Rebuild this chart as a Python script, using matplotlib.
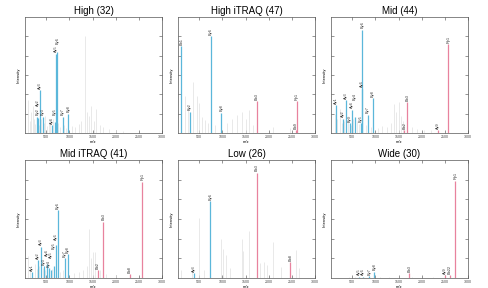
import matplotlib
matplotlib.use("Agg")
import matplotlib.pyplot as plt

plt.rcParams['font.family'] = ['Liberation Sans', 'DejaVu Sans']

titles = ["High (32)", "High iTRAQ (47)", "Mid (44)", "Mid iTRAQ (41)", "Low (26)", "Wide (30)"]
xticks = [500, 1000, 1500, 2000, 2500, 3000]

# ---- High (32)
high_gray_mz = [110, 150, 175, 205, 230, 260, 320, 345, 390, 455, 480, 520, 560, 590, 650, 760, 800, 880, 930,
                1050, 1120, 1200, 1260, 1344, 1380, 1420, 1470, 1530, 1580, 1650, 1720, 1850, 2000, 2150]
high_gray_int = [34, 12, 22, 28, 15, 9, 12, 8, 14, 10, 18, 7, 12, 9, 14, 10, 6, 8, 5,
                 7, 6, 9, 12, 100, 22, 18, 28, 12, 25, 8, 6, 4, 3, 2]
high_blue_mz = [302, 318, 368, 425, 632, 683, 705, 735, 852, 976]
high_blue_int = [17, 16, 44, 17, 8, 11, 82, 84, 17, 20]
high_blue_lab = ["By2", "Ay2", "Ay3", "By3", "Ay4", "By5", "Ay5", "By6", "By7", "By8"]
high_red_mz = []
high_red_int = []
high_red_lab = []

# ---- High iTRAQ (47)
hit_gray_mz = [185, 258, 368, 441, 493, 551, 625, 683, 845, 1100, 1211, 1322, 1432, 1507, 1579, 1650, 2093, 2460]
hit_gray_int = [38, 27, 53, 38, 31, 17, 13, 10, 8, 10, 15, 19, 22, 15, 24, 8, 6, 5]
hit_blue_mz = [115, 295, 749, 978]
hit_blue_int = [90, 22, 100, 21]
hit_blue_lab = ["Bb1", "By2", "By6", "By8"]
hit_red_mz = [1740, 2590, 2603]
hit_red_int = [33, 3, 33]
hit_red_lab = ["Bb3", "Bb9", "Ry1"]

# ---- Mid (44)
mid_gray_mz = [120, 180, 230, 270, 330, 400, 470, 520, 600, 640, 790, 900, 1050, 1150, 1250, 1330, 1400,
               1450, 1500, 1550, 1600, 1800, 1900, 2050, 2200]
mid_gray_int = [20, 14, 25, 10, 12, 18, 8, 15, 12, 9, 8, 6, 5, 7, 6, 10, 30, 22, 32, 18, 12, 6, 4, 3, 3]
mid_blue_mz = [151, 295, 369, 441, 491, 550, 681, 700, 720, 841, 950]
mid_blue_int = [29, 15, 34, 10, 24, 17, 10, 46, 107, 19, 36]
mid_blue_lab = ["Ay1", "Ay2", "Ay3", "By3", "Ay4", "By4", "By5", "Ay6", "By6", "By7", "By8"]
mid_red_mz = [1620, 1692, 2356, 2574]
mid_red_int = [3, 32, 3, 92]
mid_red_lab = ["Bb2", "Bb3", "Ay9", "Ry1"]

# ---- Mid iTRAQ (41)
mit_gray_mz = [110, 150, 250, 290, 350, 420, 480, 620, 800, 870, 1100, 1200, 1300, 1380, 1422, 1470,
               1520, 1560, 1650, 1800, 2000]
mit_gray_int = [22, 10, 14, 9, 12, 10, 8, 9, 6, 8, 5, 6, 8, 12, 50, 20, 26, 26, 8, 4, 3]
mit_blue_mz = [187, 311, 383, 441, 507, 557, 600, 660, 709, 746, 898, 970]
mit_blue_int = [6, 18, 32, 12, 14, 10, 8, 12, 34, 69, 20, 24]
mit_blue_lab = ["Ay1", "Ay2", "Ay3", "By3", "Ay4", "By4", "Ay5", "By5", "Ay6", "By6", "By7", "By8"]
mit_red_mz = [1615, 1730, 2304, 2578]
mit_red_int = [8, 57, 4, 98]
mit_red_lab = ["Bb2", "Bb3", "Bb8", "Ry1"]

# ---- Low (26)
low_gray_mz = [97, 352, 500, 610, 963, 1013, 1073, 1161, 1418, 1455, 1564, 1822, 1894, 1969, 2101, 2262, 2593, 2665]
low_gray_int = [8, 10, 61, 8, 40, 30, 23, 10, 40, 27, 48, 15, 16, 13, 37, 11, 28, 10]
low_blue_mz = [390, 742]
low_blue_int = [5, 78]
low_blue_lab = ["Ay3", "By6"]
low_red_mz = [1749, 2467]
low_red_int = [107, 16]
low_red_lab = ["Bb3", "Bb8"]

# ---- Wide (30)
wide_gray_mz = [420, 560, 1100, 1300, 1800, 2250]
wide_gray_int = [1.5, 1, 1.5, 1, 1.5, 1]
wide_blue_mz = [646, 734, 865, 975]
wide_blue_int = [1.5, 1.5, 2, 6.5]
wide_blue_lab = ["Ay5", "Ay6", "By7", "By8"]
wide_red_mz = [1735, 2510, 2612, 2722]
wide_red_int = [5, 3, 3, 99]
wide_red_lab = ["Bb3", "Ay9", "Bb22", "Ry1"]

panels = [
    (high_gray_mz, high_gray_int, high_blue_mz, high_blue_int, high_blue_lab, high_red_mz, high_red_int, high_red_lab),
    (hit_gray_mz, hit_gray_int, hit_blue_mz, hit_blue_int, hit_blue_lab, hit_red_mz, hit_red_int, hit_red_lab),
    (mid_gray_mz, mid_gray_int, mid_blue_mz, mid_blue_int, mid_blue_lab, mid_red_mz, mid_red_int, mid_red_lab),
    (mit_gray_mz, mit_gray_int, mit_blue_mz, mit_blue_int, mit_blue_lab, mit_red_mz, mit_red_int, mit_red_lab),
    (low_gray_mz, low_gray_int, low_blue_mz, low_blue_int, low_blue_lab, low_red_mz, low_red_int, low_red_lab),
    (wide_gray_mz, wide_gray_int, wide_blue_mz, wide_blue_int, wide_blue_lab, wide_red_mz, wide_red_int, wide_red_lab),
]

BLUE = '#5bb7da'
RED = '#e8829e'
GRAY = '#e0e0e0'

W, H = 489, 288
fig = plt.figure(figsize=(W / 100, H / 100), dpi=100)

col_left = [25, 178, 331]
rows = [(17, 133), (160, 278)]
aw = 137

# approximate extents of a rotated label, in data units (x: m/z, y: intensity)
LAB_W = 70
LAB_H = 9

for i, (title, data) in enumerate(zip(titles, panels)):
    r, c = divmod(i, 3)
    top, bot = rows[r]
    ax = fig.add_axes([col_left[c] / W, 1 - bot / H, aw / W, (bot - top) / H])
    gmz, gint, bmz, bint, blab, rmz, rint, rlab = data
    ax.vlines(gmz, 0, gint, color=GRAY, lw=0.5)
    ax.vlines(bmz, 0, bint, color=BLUE, lw=0.9)
    ax.vlines(rmz, 0, rint, color=RED, lw=0.9)
    placed = []
    items = sorted(zip(bmz + rmz, bint + rint, blab + rlab))
    for x, y, l in items:
        ty = y + 1.5
        moved = True
        while moved:
            moved = False
            for px, py in placed:
                if abs(px - x) < LAB_W and abs(py - ty) < LAB_H:
                    ty = py + LAB_H
                    moved = True
        placed.append((x, ty))
        ax.text(x, ty, l, rotation=90, fontsize=2.8, ha='center', va='bottom', color='#333333')
    ax.set_xlim(40, 3000)
    ax.set_ylim(0, 120)
    ax.set_xticks(xticks)
    ax.set_yticks([20, 40, 60, 80, 100])
    ax.set_yticklabels([])
    ax.tick_params(direction='in', length=2, width=0.4, labelsize=2.6, pad=1.5,
                   top=True, right=True, colors='#444444')
    for s in ax.spines.values():
        s.set_linewidth(0.5)
        s.set_color('#555555')
    ax.set_title(title, fontsize=7, pad=2.5)
    ax.set_xlabel('m/z', fontsize=3, labelpad=1)
    ax.set_ylabel('Intensity', fontsize=3, labelpad=2)

fig.savefig('out.png', dpi=100)
